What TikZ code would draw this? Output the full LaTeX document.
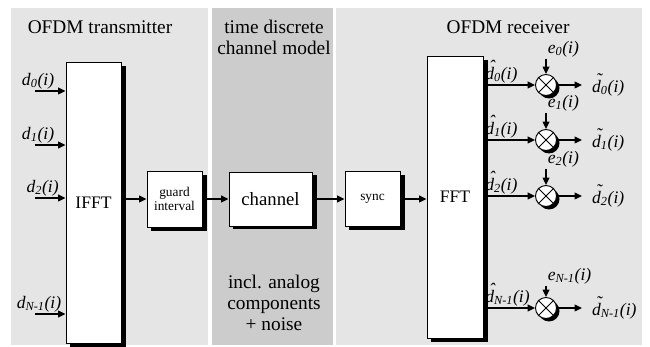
\documentclass[tikz,border=0pt]{standalone}
\usepackage{fontspec}
\setmainfont{Liberation Serif}
\usetikzlibrary{arrows.meta}

\definecolor{lightpanel}{gray}{0.9}
\definecolor{darkpanel}{gray}{0.8}

\newcommand{\hatd}{\makebox[0pt][l]{\hspace{0.22em}\raisebox{0.4em}{ˆ}}d}
\newcommand{\tilded}{\makebox[0pt][l]{\hspace{0.22em}\raisebox{0.35em}{˜}}d}

\begin{document}
\begin{tikzpicture}[x=0.3mm, y=-0.3mm, line width=0.8pt,
  block/.style={draw, fill=white, inner sep=0pt},
  mix/.style={draw, circle, fill=white, minimum size=6.3mm, inner sep=0pt},
  shadowbox/.style={fill=black},
  sig/.style={line width=1.1pt, -{Triangle[length=2.2mm, width=2mm]}},
  lbl/.style={font=\fontsize{15}{16}\selectfont\itshape, inner sep=1pt},
  ttl/.style={font=\fontsize{16.5}{18}\selectfont, align=center}]
		\useasboundingbox (0,0) rectangle (650,347);
		
		% panels
		\fill[lightpanel] (11,8) rectangle (208,345);
		\fill[darkpanel] (212,8) rectangle (333,345);
		\fill[lightpanel] (336,8) rectangle (642,345);
		
		\node[ttl] (txt) at (100,27) {OFDM transmitter};
		\node[ttl] (cht) at (274,37) {time discrete\\channel model};
		\node[ttl] (rxt) at (508,27) {OFDM receiver};
		\node[ttl] (chn) at (274,303) {incl. analog\\components\\+ noise};
		
		% shadows
		\fill[shadowbox] (70,66) rectangle (125.5,347);
		\fill[shadowbox] (151,175) rectangle (206.5,231.5);
		\fill[shadowbox] (233,175) rectangle (316.5,229.5);
		\fill[shadowbox] (349,175) rectangle (404.5,230.5);
		\fill[shadowbox] (431,60) rectangle (487.5,342.5);
		\fill[shadowbox] (549,88) circle (10.5);
		\fill[shadowbox] (549,143) circle (10.5);
		\fill[shadowbox] (549,199) circle (10.5);
		\fill[shadowbox] (549,311) circle (10.5);
		
		% blocks
		\node[block, minimum width=16.5mm, minimum height=84.3mm, font=\fontsize{15}{16}\selectfont] (ifft) at (93.5,202.5) {IFFT};
		\node[block, minimum width=16.5mm, minimum height=16.8mm, align=center, font=\fontsize{11.4}{12.5}\selectfont] (guard) at (174.5,199) {guard\\interval};
		\node[block, minimum width=24.9mm, minimum height=16.2mm, font=\fontsize{16}{17}\selectfont] (chan) at (270.5,199) {channel};
		\node[block, minimum width=16.5mm, minimum height=16.5mm, font=\fontsize{11.4}{12.5}\selectfont] (sync) at (372.5,199) {sync};
		\node[block, minimum width=16.8mm, minimum height=84.6mm, font=\fontsize{15}{16}\selectfont] (fft) at (455,197) {FFT};
		
		\draw[sig] (ifft.east |- guard) -- (guard);
		\draw[sig] (guard) -- (chan);
		\draw[sig] (chan) -- (sync);
		\draw[sig] (sync) -- (fft.west |- sync);
		
		% transmitter inputs
		\coordinate (in0) at (35,91);
		\coordinate (in1) at (35,145);
		\coordinate (in2) at (35,198);
		\coordinate (in3) at (35,314);
		\draw[sig] (in0) -- (in0 -| ifft.west) node[lbl, above, pos=0.1] {d\textsubscript{0}(i)};
		\draw[sig] (in1) -- (in1 -| ifft.west) node[lbl, above, pos=0.1] {d\textsubscript{1}(i)};
		\draw[sig] (in2) -- (in2 -| ifft.west) node[lbl, above, pos=0.25] {d\textsubscript{2}(i)};
		\draw[sig] (in3) -- (in3 -| ifft.west) node[lbl, above, pos=0.13] {d\textsubscript{N-1}(i)};
		
		% receiver outputs
		\node[mix] (m0) at (546,85) {};
		\node[mix] (m1) at (546,140) {};
		\node[mix] (m2) at (546,196) {};
		\node[mix] (m3) at (546,308) {};
		\draw (m0.north west) -- (m0.south east) (m0.north east) -- (m0.south west);
		\draw (m1.north west) -- (m1.south east) (m1.north east) -- (m1.south west);
		\draw (m2.north west) -- (m2.south east) (m2.north east) -- (m2.south west);
		\draw (m3.north west) -- (m3.south east) (m3.north east) -- (m3.south west);
		
		\draw[sig] (fft.east |- m0) -- (m0) node[lbl, above right, pos=0] {\hatd\textsubscript{0}(i)};
		\draw[sig] (fft.east |- m1) -- (m1) node[lbl, above right, pos=0] {\hatd\textsubscript{1}(i)};
		\draw[sig] (fft.east |- m2) -- (m2) node[lbl, above right, pos=0] {\hatd\textsubscript{2}(i)};
		\draw[sig] (fft.east |- m3) -- (m3) node[lbl, above right, pos=0] {\hatd\textsubscript{N-1}(i)};
		
		\coordinate (e0) at (546,59);
		\coordinate (e1) at (546,113);
		\coordinate (e2) at (546,169);
		\coordinate (e3) at (546,286);
		\draw[sig] (e0) -- (m0) node[lbl, above right, pos=0] {e\textsubscript{0}(i)};
		\draw[sig] (e1) -- (m1) node[lbl, above right, pos=0] {e\textsubscript{1}(i)};
		\draw[sig] (e2) -- (m2) node[lbl, above right, pos=0] {e\textsubscript{2}(i)};
		\draw[sig] (e3) -- (m3) node[lbl, above right, pos=0] {e\textsubscript{N-1}(i)};
		
		\coordinate (out0) at (582,85);
		\coordinate (out1) at (582,140);
		\coordinate (out2) at (582,196);
		\coordinate (out3) at (582,308);
		\draw[sig] (m0) -- (out0) node[lbl, right=2.5mm] {\tilded\textsubscript{0}(i)};
		\draw[sig] (m1) -- (out1) node[lbl, right=2.5mm] {\tilded\textsubscript{1}(i)};
		\draw[sig] (m2) -- (out2) node[lbl, right=2.5mm] {\tilded\textsubscript{2}(i)};
		\draw[sig] (m3) -- (out3) node[lbl, right=2.5mm] {\tilded\textsubscript{N-1}(i)};
	\end{tikzpicture}
\end{document}
